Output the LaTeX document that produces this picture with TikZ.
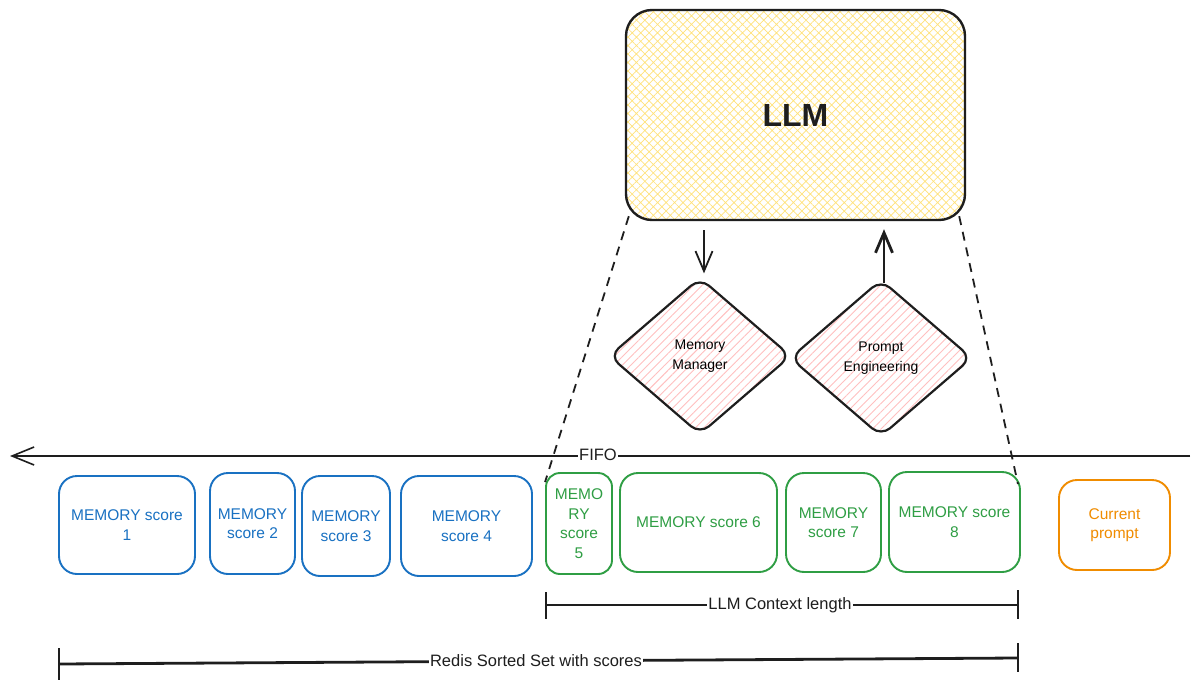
\documentclass[tikz,border=0pt]{standalone}
\usepackage{fontspec}
\setmainfont{Liberation Sans}
\usetikzlibrary{arrows.meta,patterns.meta,shapes.geometric,calc}
\definecolor{ink}{HTML}{1E1E1E}
\definecolor{mblue}{HTML}{1971C2}
\definecolor{mgreen}{HTML}{2F9E44}
\definecolor{morange}{HTML}{F08C00}
\definecolor{hatchY}{HTML}{FFE27A}
\definecolor{hatchR}{HTML}{FFC0C0}
\tikzset{
  membox/.style={draw, rounded corners=18pt, line width=1.9pt, align=center, inner sep=0pt,
    font=\fontsize{15.5}{19.5}\selectfont},
  bluebox/.style={membox, draw=mblue, text=mblue},
  greenbox/.style={membox, draw=mgreen, text=mgreen},
  orangebox/.style={membox, draw=morange, text=morange},
  decision/.style={diamond, draw=ink, line width=2.2pt, rounded corners=12pt, inner sep=0pt,
    minimum width=182pt, minimum height=157pt, align=center,
    font=\fontsize{14}{20}\selectfont,
    preaction={pattern={Lines[angle=45,distance=6pt,line width=0.9pt]}, pattern color=hatchR}},
  arr/.style={draw=ink, line width=1.8pt, -{Straight Barb[length=20pt,width=17pt]}},
  dashline/.style={draw=ink, line width=1.8pt, dash pattern=on 9pt off 7pt},
  dimline/.style={draw=ink, line width=2.8pt},
  dimtick/.style={draw=ink, line width=1.5pt},
  dimlabel/.style={fill=white, inner sep=1pt, font=\fontsize{16.5}{18}\selectfont, text=ink},
}
\begin{document}
\begin{tikzpicture}[x=1pt,y=-1pt]
\useasboundingbox[fill=white] (0,0) rectangle (1196,682);

% LLM box
\node[draw=ink, line width=2.4pt, rounded corners=26pt, minimum width=339pt, minimum height=210pt,
  preaction={pattern={Hatch[angle=45,distance=6pt,line width=0.7pt]}, pattern color=hatchY},
  font=\bfseries\fontsize{32}{36}\selectfont, text=ink] (llm) at (795.5,115) {LLM};

% diamonds
\node[decision] (mm) at (700,356) {Memory\\Manager};
\node[decision] (pe) at (881,358) {Prompt\\Engineering};

% arrows between LLM and diamonds
\draw[arr] ($(llm.south -| mm.north)+(4,9)$) -- ($(mm.north)+(4,-3)$);
\draw[arr, line width=2.8pt] ($(pe.north)+(3,5)$) -- ($(llm.south -| pe.north)+(3,8)$);

% memory boxes
\node[bluebox, minimum width=136pt, minimum height=98pt] (m1) at (127,525) {MEMORY score\\1};
\node[bluebox, minimum width=85pt, minimum height=101pt] (m2) at (252.5,523.5) {MEMORY\\score 2};
\node[bluebox, minimum width=88pt, minimum height=100pt] (m3) at (346,526) {MEMORY\\score 3};
\node[bluebox, minimum width=131pt, minimum height=100pt] (m4) at (466.5,526) {MEMORY\\score 4};
\node[greenbox, rounded corners=14pt, minimum width=66pt, minimum height=101pt] (m5) at (579,523.5) {MEMO\\RY\\score\\5};
\node[greenbox, minimum width=157pt, minimum height=99pt] (m6) at (698.5,522.5) {MEMORY score 6};
\node[greenbox, minimum width=95pt, minimum height=99pt] (m7) at (833.5,522.5) {MEMORY\\score 7};
\node[greenbox, minimum width=131pt, minimum height=100pt] (m8) at (954.5,522) {MEMORY score\\8};
\node[orangebox, minimum width=111pt, minimum height=90pt] (cp) at (1114.5,525) {Current\\prompt};

% dashed projection lines
\draw[dashline] ($(llm.south west)+(4,-5)$) -- ($(m5.north west)+(0,10)$);
\draw[dashline] ($(llm.south east)+(-7,-5)$) -- ($(m8.north east)+(-3,13)$);

% FIFO arrow
\coordinate (fifoR) at (1190,456);
\coordinate (fifoL) at (10,456);
\draw[draw=ink, line width=1.6pt, -{Straight Barb[length=22pt,width=18pt]}] (fifoR) -- (fifoL);
\node[dimlabel] (fifo) at (598,455) {FIFO};

% LLM context length
\coordinate (cL) at (546,605);
\coordinate (cR) at (1018,605);
\draw[dimline] (cL) -- (cR);
\draw[dimtick] ($(cL)+(0,-13)$) -- ($(cL)+(0,14)$);
\draw[dimtick] ($(cR)+(0,-15)$) -- ($(cR)+(0,14)$);
\node[dimlabel] (ctx) at (780,605) {LLM Context length};

% Redis sorted set
\coordinate (rL) at (59,664);
\coordinate (rR) at (1018,658);
\draw[dimline] (rL) -- (rR);
\draw[dimtick] ($(rL)+(0,-16)$) -- ($(rL)+(0,16)$);
\draw[dimtick] ($(rR)+(0,-15)$) -- ($(rR)+(0,14)$);
\node[dimlabel] (redis) at (536,661) {Redis Sorted Set with scores};
\end{tikzpicture}
\end{document}
